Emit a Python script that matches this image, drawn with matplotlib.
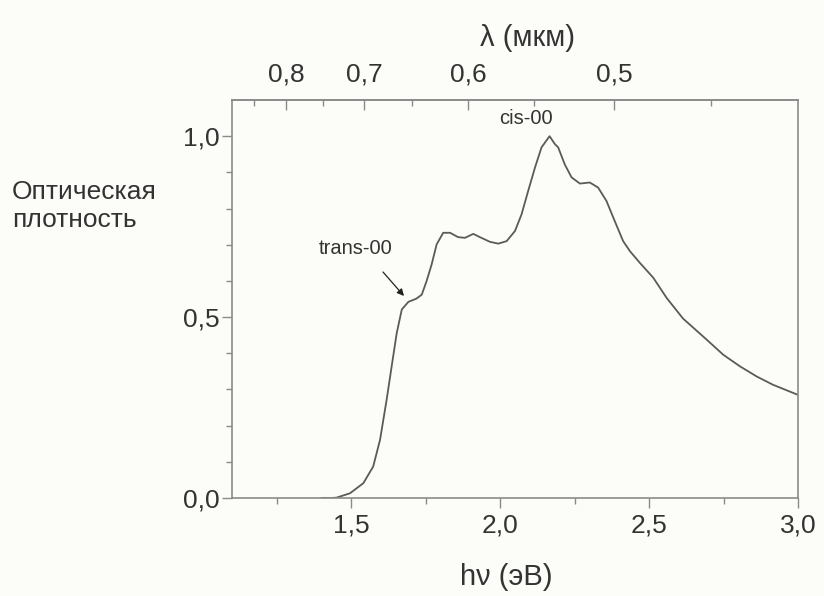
import matplotlib
matplotlib.use("Agg")
import matplotlib.pyplot as plt
from matplotlib.ticker import FixedLocator

# ---- data ----
energy_ev = [1.400, 1.432, 1.451, 1.496, 1.541, 1.574, 1.597, 1.619, 1.636, 1.653,
             1.670, 1.692, 1.719, 1.737, 1.753, 1.770, 1.787, 1.809, 1.832, 1.859,
             1.882, 1.910, 1.932, 1.966, 1.994, 2.022, 2.050, 2.072, 2.094, 2.117,
             2.139, 2.166, 2.184, 2.195, 2.217, 2.240, 2.268, 2.301, 2.329, 2.357,
             2.385, 2.413, 2.436, 2.469, 2.514, 2.559, 2.614, 2.693, 2.749, 2.805,
             2.861, 2.916, 3.000]
optical_density = [0.000, 0.000, 0.001, 0.013, 0.041, 0.087, 0.161, 0.271, 0.364, 0.456,
                   0.521, 0.542, 0.551, 0.562, 0.599, 0.645, 0.701, 0.733, 0.733, 0.721,
                   0.719, 0.730, 0.721, 0.708, 0.703, 0.710, 0.738, 0.784, 0.848, 0.913,
                   0.969, 1.000, 0.978, 0.969, 0.922, 0.886, 0.869, 0.872, 0.858, 0.821,
                   0.765, 0.710, 0.682, 0.650, 0.609, 0.553, 0.496, 0.438, 0.396, 0.364,
                   0.336, 0.313, 0.285]

x_major = [1.5, 2.0, 2.5, 3.0]
x_major_labels = ["1,5", "2,0", "2,5", "3,0"]
x_minor = [1.25, 1.75, 2.25, 2.75]
y_major = [0.0, 0.5, 1.0]
y_major_labels = ["0,0", "0,5", "1,0"]
y_minor = [0.1, 0.2, 0.3, 0.4, 0.6, 0.7, 0.8, 0.9]
lam_major = [0.8, 0.7, 0.6, 0.5]
lam_major_labels = ["0,8", "0,7", "0,6", "0,5"]
lam_minor = [0.85, 0.75, 0.65, 0.55, 0.45]

plt.rcParams['font.family'] = ['Liberation Sans', 'DejaVu Sans']

BG = '#fcfcf8'
TXT = '#333333'
AX = '#8a8a8a'
TICK_FS = 19
TITLE_FS = 21

fig = plt.figure(figsize=(8.24, 5.96), dpi=100, facecolor=BG)
ax = fig.add_axes([232/824, 1-498/596, (798-232)/824, (498-100)/596])
ax.set_facecolor(BG)

ax.plot(energy_ev, optical_density, color='#5a5a5a', lw=1.3,
        solid_joinstyle='round', solid_capstyle='round')

ax.set_xlim(1.1, 3.0)
ax.set_ylim(0.0, 1.1)

for s in ax.spines.values():
    s.set_color(AX)
    s.set_linewidth(1.2)

ax.set_xticks(x_major)
ax.set_xticklabels(x_major_labels)
ax.xaxis.set_minor_locator(FixedLocator(x_minor))
ax.set_yticks(y_major)
ax.set_yticklabels(y_major_labels)
ax.yaxis.set_minor_locator(FixedLocator(y_minor))
ax.tick_params(axis='both', which='major', direction='out', length=7, width=1,
               color=AX, labelsize=TICK_FS, labelcolor=TXT)
ax.tick_params(axis='x', which='major', pad=4)
ax.tick_params(axis='y', which='major', pad=2)
ax.tick_params(axis='both', which='minor', direction='out', length=4, width=1, color=AX)
ax.tick_params(top=False, right=False, which='both')

# top wavelength axis (as drawn in the reference)
def e_to_lam(e):
    return 1.4664 / (e + 0.551)

def lam_to_e(l):
    return 1.4664 / l - 0.551

sec = ax.secondary_xaxis('top', functions=(e_to_lam, lam_to_e))
sec.set_xticks(lam_major)
sec.set_xticklabels(lam_major_labels)
sec.xaxis.set_minor_locator(FixedLocator(lam_minor))
sec.tick_params(axis='x', which='major', direction='in', length=7, width=1,
                color=AX, labelsize=TICK_FS, labelcolor=TXT, pad=10)
sec.tick_params(axis='x', which='minor', direction='in', length=4, width=1, color=AX)
sec.spines['top'].set_color(AX)
sec.spines['top'].set_linewidth(1.2)

fig.text(527/824, 1-38/596, "λ (мкм)", ha='center', va='center', fontsize=TITLE_FS, color=TXT)
fig.text(506/824, 1-577/596, "hν (эВ)", ha='center', va='center', fontsize=TITLE_FS, color=TXT)
fig.text(12/824, 1-206/596, "Оптическая\nплотность", ha='left', va='center',
         fontsize=TICK_FS, color=TXT, linespacing=1.2)

fig.text(526/824, 1-118/596, "cis-00", ha='center', va='center', fontsize=14.5, color=TXT)
fig.text(356/824, 1-249/596, "trans-00", ha='center', va='center', fontsize=14.5, color=TXT)
ax.annotate("", xy=(404/824, 1-296/596), xytext=(383/824, 1-272/596),
            xycoords='figure fraction', textcoords='figure fraction',
            arrowprops=dict(arrowstyle='-|>', color='#222222', lw=0.9,
                            shrinkA=0, shrinkB=0, mutation_scale=10))

fig.savefig("out.png", dpi=100, facecolor=BG)
